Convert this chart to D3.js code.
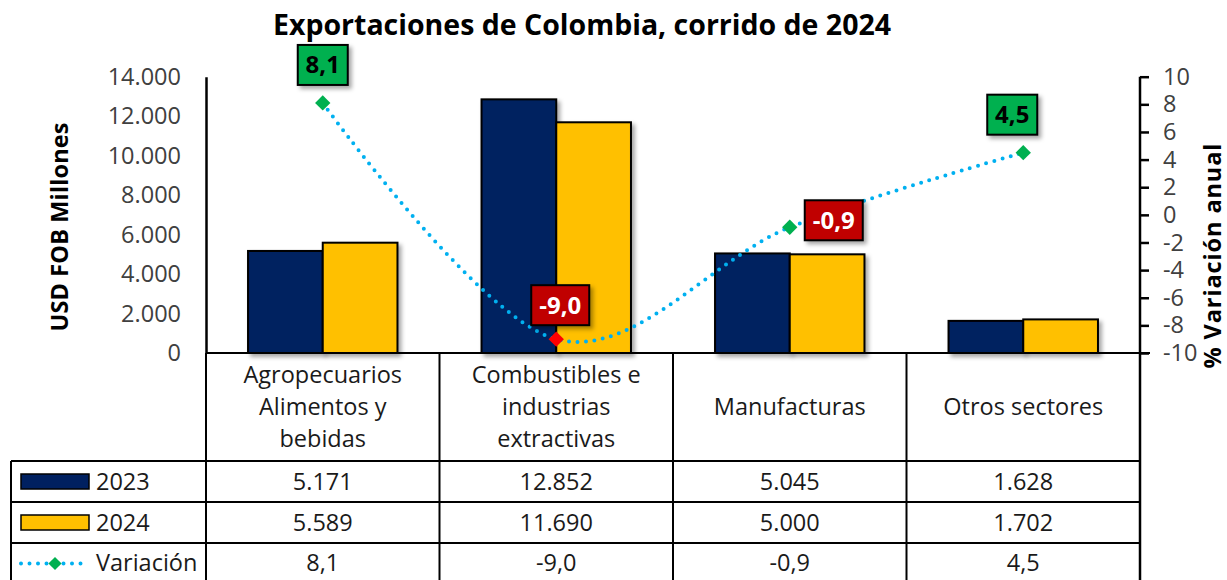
<!DOCTYPE html>
<html>
<head>
<meta charset="utf-8">
<script src="https://cdn.jsdelivr.net/npm/d3@7"></script>
<style>
  html, body { margin: 0; padding: 0; background: #fff; }
  svg { display: block; font-family: "Open Sans", "Noto Sans", sans-serif; }
</style>
</head>
<body>
<svg id="chart" width="1227" height="580"></svg>
<script>
// ---- data ----
const categories = [
  ["Agropecuarios", "Alimentos y", "bebidas"],
  ["Combustibles e", "industrias", "extractivas"],
  ["Manufacturas"],
  ["Otros sectores"]
];
const seriesNames = ["2023", "2024", "Variación"];
const values2023 = [5171, 12852, 5045, 1628];
const values2024 = [5589, 11690, 5000, 1702];
const variation = [8.1, -9.0, -0.9, 4.5];
const leftTicks = [0, 2000, 4000, 6000, 8000, 10000, 12000, 14000];
const rightTicks = [-10, -8, -6, -4, -2, 0, 2, 4, 6, 8, 10];
const labelPlacement = ["above", "above", "right", "above"];

// ---- formatting ----
const fixMinus = s => s.replace(/\u2212/g, "-");
const fmtThousands = v => fixMinus(d3.format(",")(v).replace(/,/g, "."));
const fmtDec = v => fixMinus(d3.format(".1f")(v).replace(".", ","));

// ---- layout ----
const svg = d3.select("#chart");
const plotL = 206, plotR = 1140, plotT = 76.7, plotB = 353;
const tableL = 11, rowLines = [461, 502, 543];
const navy = "#002060", gold = "#FFC000", lineBlue = "#00B0F0";
const green = "#00B050", red = "#FF0000", darkRed = "#C00000";
const bodySize = 23.5;

const defs = svg.append("defs");
const f = defs.append("filter").attr("id", "shadow").attr("x", "-20%").attr("y", "-20%").attr("width", "150%").attr("height", "150%");
f.append("feDropShadow").attr("dx", 3).attr("dy", 3).attr("stdDeviation", 2.2).attr("flood-color", "#000").attr("flood-opacity", 0.35);

const x = d3.scaleBand().domain(d3.range(categories.length)).range([plotL, plotR]).paddingInner(0).paddingOuter(0);
const xInner = d3.scaleBand().domain([0, 1]).range([0, x.bandwidth()]).paddingInner(0).paddingOuter(0.5625);
const yL = d3.scaleLinear().domain([0, 14000]).range([plotB, plotT]);
const yR = d3.scaleLinear().domain([-10, 10]).range([plotB, plotT]);

// title
svg.append("text").attr("x", 582).attr("y", 35).attr("text-anchor", "middle")
  .attr("font-size", 28.5).attr("font-weight", "bold").attr("fill", "#000")
  .text("Exportaciones de Colombia, corrido de 2024");

// left axis
const gL = svg.append("g").attr("transform", `translate(${plotL},0)`)
  .call(d3.axisLeft(yL).tickValues(leftTicks).tickFormat(fmtThousands).tickSize(0).tickPadding(25));
gL.select(".domain").attr("stroke", "#000").attr("stroke-width", 2.5);
gL.selectAll("text").attr("font-size", bodySize).attr("fill", "#404040").attr("font-family", "Open Sans");

// right axis
const gR = svg.append("g").attr("transform", `translate(${plotR},0)`)
  .call(d3.axisRight(yR).tickValues(rightTicks).tickFormat(d => fixMinus(d3.format("d")(d))).tickSizeInner(9).tickSizeOuter(0).tickPadding(14));
gR.select(".domain").attr("stroke", "#000").attr("stroke-width", 2.5).attr("d", `M0,${plotT}V580`);
gR.selectAll(".tick line").attr("stroke", "#000").attr("stroke-width", 2.5);
gR.selectAll("text").attr("font-size", bodySize).attr("fill", "#404040").attr("font-family", "Open Sans");

// axis titles
svg.append("text").attr("transform", "translate(68,227) rotate(-90)").attr("text-anchor", "middle")
  .attr("font-size", 23.5).attr("font-weight", "bold").attr("fill", "#000")
  .attr("textLength", 209).attr("lengthAdjust", "spacing").text("USD FOB Millones");
svg.append("text").attr("transform", "translate(1221,256) rotate(-90)").attr("text-anchor", "middle")
  .attr("font-size", 23.5).attr("font-weight", "bold").attr("fill", "#000")
  .attr("textLength", 225).attr("lengthAdjust", "spacing").text("% Variación anual");

// bars
const seriesVals = [values2023, values2024];
const colors = [navy, gold];
const gBars = svg.append("g");
categories.forEach((c, i) => {
  seriesVals.forEach((vals, s) => {
    gBars.append("rect")
      .attr("x", x(i) + xInner(s))
      .attr("y", yL(vals[i]))
      .attr("width", xInner.bandwidth())
      .attr("height", yL(0) - yL(vals[i]))
      .attr("fill", colors[s])
      .attr("stroke", "#000").attr("stroke-width", 2)
      .attr("filter", "url(#shadow)");
  });
});

// table grid
const grid = svg.append("g").attr("stroke", "#000").attr("stroke-width", 2).attr("fill", "none");
grid.append("line").attr("x1", plotL).attr("x2", plotR + 10).attr("y1", plotB).attr("y2", plotB);
rowLines.forEach(yy => grid.append("line").attr("x1", tableL).attr("x2", plotR).attr("y1", yy).attr("y2", yy));
grid.append("line").attr("x1", tableL).attr("x2", tableL).attr("y1", rowLines[0]).attr("y2", 580);
grid.append("line").attr("x1", plotL).attr("x2", plotL).attr("y1", plotB).attr("y2", 580);
d3.range(1, categories.length).forEach(i => {
  grid.append("line").attr("x1", x(i)).attr("x2", x(i)).attr("y1", plotB).attr("y2", 580);
});

// category headers
categories.forEach((lines, i) => {
  const cx = x(i) + x.bandwidth() / 2;
  const midY = 407;
  const lh = 32;
  lines.forEach((t, k) => {
    svg.append("text").attr("x", cx).attr("y", midY + (k - (lines.length - 1) / 2) * lh + 8)
      .attr("text-anchor", "middle").attr("font-size", bodySize).attr("fill", "#1a1a1a").text(t);
  });
});

// table values
const rowCenters = [481.5, 522.5, 562.5];
const tableRows = [values2023.map(fmtThousands), values2024.map(fmtThousands), variation.map(fmtDec)];
tableRows.forEach((row, r) => {
  row.forEach((t, i) => {
    svg.append("text").attr("x", x(i) + x.bandwidth() / 2).attr("y", rowCenters[r] + 8)
      .attr("text-anchor", "middle").attr("font-size", bodySize).attr("fill", "#1a1a1a").text(t);
  });
});

// legend keys in table
[0, 1].forEach(s => {
  svg.append("rect").attr("x", 21).attr("y", rowCenters[s] - 7.5).attr("width", 68).attr("height", 15)
    .attr("fill", colors[s]).attr("stroke", "#000").attr("stroke-width", 1.5);
});
svg.append("line").attr("x1", 21).attr("x2", 89).attr("y1", rowCenters[2] + 1).attr("y2", rowCenters[2] + 1)
  .attr("stroke", lineBlue).attr("stroke-width", 4).attr("stroke-linecap", "round").attr("stroke-dasharray", "0 8.5");
svg.append("path").attr("d", d3.symbol(d3.symbolDiamond2, 110)())
  .attr("transform", `translate(55,${rowCenters[2] + 1})`).attr("fill", green);
seriesNames.forEach((n, s) => {
  svg.append("text").attr("x", 96).attr("y", rowCenters[s] + 8).attr("font-size", bodySize).attr("fill", "#1a1a1a").text(n);
});

// variation line
const pts = variation.map((v, i) => [x(i) + x.bandwidth() / 2, yR(v)]);
svg.append("path").attr("d", d3.line().curve(d3.curveCardinal.tension(0))(pts))
  .attr("fill", "none").attr("stroke", lineBlue).attr("stroke-width", 4)
  .attr("stroke-linecap", "round").attr("stroke-dasharray", "0 8.5");

// markers
const markerColor = variation.map((v, i) => i === 1 ? red : green);
pts.forEach((p, i) => {
  svg.append("path").attr("d", d3.symbol(d3.symbolDiamond2, 150)())
    .attr("transform", `translate(${p[0]},${p[1]})`).attr("fill", markerColor[i]);
});

// data labels
pts.forEach((p, i) => {
  const v = variation[i];
  const txt = fmtDec(v);
  const w = v < 0 ? 58 : 50, h = 40;
  let cx, cy;
  if (labelPlacement[i] === "right") { cx = p[0] + 15 + w / 2; cy = p[1] - 7; }
  else { cx = p[0] + (i === 3 ? -11 : (i === 1 ? 4 : 0)); cy = p[1] - (i === 1 ? 34 : 38); }
  const g = svg.append("g");
  g.append("rect").attr("x", cx - w / 2).attr("y", cy - h / 2).attr("width", w).attr("height", h)
    .attr("fill", v < 0 ? darkRed : green).attr("stroke", "#000").attr("stroke-width", 2)
    .attr("filter", "url(#shadow)");
  g.append("text").attr("x", cx).attr("y", cy + 8.5).attr("text-anchor", "middle")
    .attr("font-size", 24).attr("font-weight", "bold").attr("fill", v < 0 ? "#fff" : "#000").text(txt);
});
</script>
</body>
</html>
